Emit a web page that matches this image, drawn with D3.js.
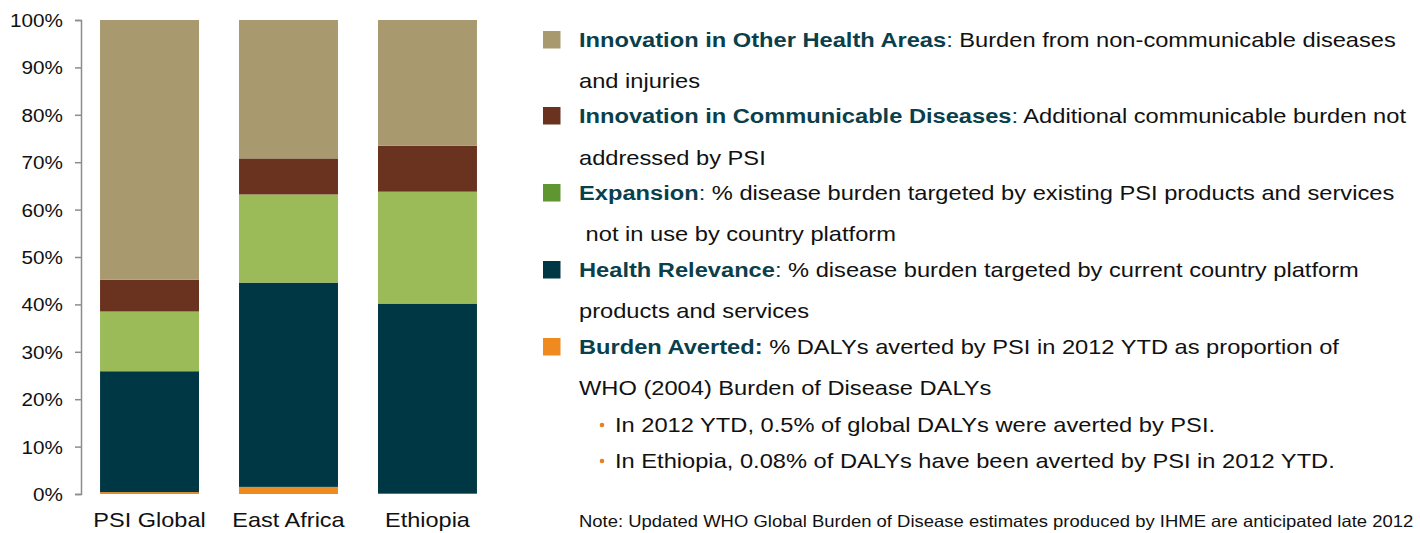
<!DOCTYPE html>
<html>
<head>
<meta charset="utf-8">
<script src="https://cdn.jsdelivr.net/npm/d3@7"></script>
<style>
  body { margin: 0; background: #fff; }
  text { font-family: Arial, "Liberation Sans", sans-serif; }
</style>
</head>
<body>
<svg width="1420" height="533"></svg>
<script>
let categories = ["PSI Global", "East Africa", "Ethiopia"];
let seriesNames = ["Burden Averted", "Health Relevance", "Expansion", "Innovation in Communicable Diseases", "Innovation in Other Health Areas"];
let averted  = [0.4, 1.5, 0.08];
let relevance = [25.5, 43.1, 40.1];
let expansion = [12.6, 18.6, 23.6];
let communicable = [6.7, 7.6, 9.7];
let otherAreas = [54.8, 29.2, 26.52];
let yTicks = [0, 10, 20, 30, 40, 50, 60, 70, 80, 90, 100];

let barColors = ["#ee8a1e", "#003744", "#9bbb59", "#693320", "#a89a6e"];
let swatchColors = ["#a89a6e", "#693320", "#5f9632", "#003744", "#ee8a1e"];

let legendLines = [
  {bold: "Innovation in Other Health Areas", colon: ":", rest: " Burden from non-communicable diseases", y: 47},
  {rest: "and injuries", y: 88},
  {bold: "Innovation in Communicable Diseases", colon: ":", rest: " Additional communicable burden not", y: 123},
  {rest: "addressed by PSI", y: 165},
  {bold: "Expansion", colon: ":", rest: " % disease burden targeted by existing PSI products and services", y: 200},
  {rest: "\u00a0not in use by country platform", y: 241},
  {bold: "Health Relevance", colon: ":", rest: " % disease burden targeted by current country platform", y: 277},
  {rest: "products and services", y: 318},
  {bold: "Burden Averted:", colon: "", rest: " % DALYs averted by PSI in 2012 YTD as proportion of", y: 354},
  {rest: "WHO (2004) Burden of Disease DALYs", y: 395},
  {bullet: true, rest: "In 2012 YTD, 0.5% of global DALYs were averted by PSI.", y: 432},
  {bullet: true, rest: "In Ethiopia, 0.08% of DALYs have been averted by PSI in 2012 YTD.", y: 468}
];
let swatchRows = [0, 2, 4, 6, 8];
let noteText = "Note: Updated WHO Global Burden of Disease estimates produced by IHME are anticipated late 2012";

// the source image is slightly stretched horizontally
let sx = 1.12;
let sxLegend = 1.155;

let svg = d3.select("svg");

let x = d3.scaleBand()
  .domain(categories)
  .range([81, 496])
  .paddingInner(0.288)
  .paddingOuter(0.137);

let y = d3.scaleLinear()
  .domain([0, 100])
  .range([494, 20]);

let table = categories.map((c, i) => ({
  cat: c,
  "Burden Averted": averted[i],
  "Health Relevance": relevance[i],
  "Expansion": expansion[i],
  "Innovation in Communicable Diseases": communicable[i],
  "Innovation in Other Health Areas": otherAreas[i]
}));

let stacked = d3.stack().keys(seriesNames)(table);

svg.append("g")
  .selectAll("g")
  .data(stacked)
  .enter()
  .append("g")
  .attr("fill", (d, i) => barColors[i])
  .selectAll("rect")
  .data(d => d)
  .enter()
  .append("rect")
  .attr("x", d => x(d.data.cat))
  .attr("width", x.bandwidth())
  .attr("y", d => y(Math.min(100, d[1])))
  .attr("height", d => y(d[0]) - y(Math.min(100, d[1])));

// y axis
let yAxis = svg.append("g")
  .attr("transform", "translate(81,0)")
  .call(d3.axisLeft(y).tickValues(yTicks).tickSize(6).tickPadding(12).tickFormat(d => d + "%"));
yAxis.select(".domain").attr("stroke", "#8c8c8c").attr("stroke-width", 1.5);
yAxis.selectAll(".tick line").attr("stroke", "#8c8c8c").attr("stroke-width", 1.5);
yAxis.selectAll(".tick text")
  .attr("font-size", 18.5)
  .attr("fill", "#111")
  .attr("x", null)
  .attr("dy", null)
  .attr("dominant-baseline", "central")
  .attr("transform", "translate(-18,0) scale(" + sx + ",1)");

// x labels
svg.append("g")
  .selectAll("text")
  .data(categories)
  .enter()
  .append("text")
  .attr("transform", d => "translate(" + (x(d) + x.bandwidth() / 2) + ",527) scale(" + sx + ",1)")
  .attr("text-anchor", "middle")
  .attr("font-size", 21)
  .attr("fill", "#111")
  .text(d => d);

// legend
let legend = svg.append("g");

legend.selectAll("rect")
  .data(swatchRows)
  .enter()
  .append("rect")
  .attr("x", 543)
  .attr("y", d => legendLines[d].y - 16)
  .attr("width", 17.5)
  .attr("height", 17.5)
  .attr("fill", (d, i) => swatchColors[i]);

let lines = legend.selectAll("text.line")
  .data(legendLines)
  .enter()
  .append("text")
  .attr("class", "line")
  .attr("transform", d => "translate(" + (d.bullet ? 615 : 579) + "," + d.y + ") scale(" + sxLegend + ",1)")
  .attr("font-size", 20.5)
  .attr("fill", "#111");

lines.filter(d => d.bold)
  .append("tspan")
  .attr("font-weight", "bold")
  .attr("fill", "#0a3f4c")
  .text(d => d.bold);
lines.filter(d => d.colon)
  .append("tspan")
  .attr("fill", "#0a3f4c")
  .text(d => d.colon);
lines.append("tspan")
  .text(d => d.rest);

legend.selectAll("circle")
  .data(legendLines.filter(d => d.bullet))
  .enter()
  .append("circle")
  .attr("cx", 602)
  .attr("cy", d => d.y - 7)
  .attr("r", 2.3)
  .attr("fill", "#e8801c");

svg.append("text")
  .attr("transform", "translate(579,527) scale(" + sx + ",1)")
  .attr("font-size", 16.5)
  .attr("fill", "#111")
  .text(noteText);
</script>
</body>
</html>
